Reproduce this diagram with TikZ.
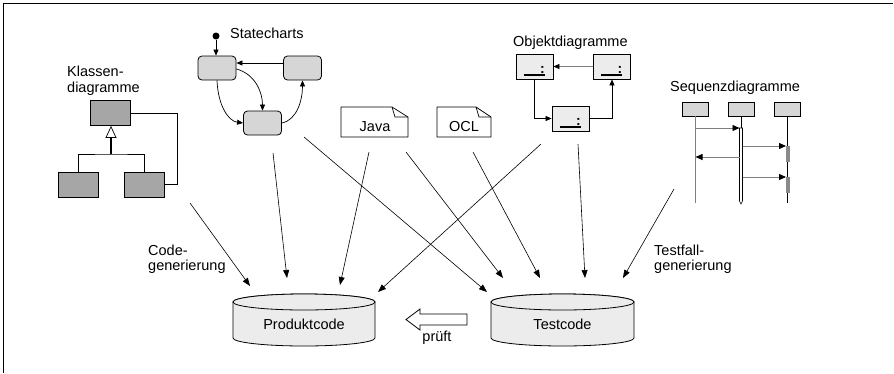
\documentclass[tikz,border=0pt]{standalone}
\usepackage{fontspec}
\setmainfont{Liberation Sans}
\usetikzlibrary{arrows.meta}
\definecolor{UMLDark}{HTML}{A6A6A6}
\definecolor{UMLState}{HTML}{D6D6D6}
\definecolor{UMLLight}{HTML}{ECECEC}
\definecolor{UMLLine}{HTML}{7F7F7F}
\definecolor{UMLAct}{HTML}{8A8A8A}
\tikzset{
  gen/.style={-{Triangle[length=8pt,width=6pt]},line width=0.6pt},
  small/.style={-{Triangle[length=6pt,width=5pt,color=black]},line width=0.7pt},
  seqmsg/.style={-{Triangle[length=7pt,width=6pt,color=black]},line width=0.8pt,UMLLine},
  classbox/.style={draw,fill=UMLDark,line width=0.8pt,minimum width=40pt,
                   minimum height=25pt,inner sep=0pt},
  statebox/.style={draw,fill=UMLState,line width=0.8pt,rounded corners=4pt,
                   minimum width=38pt,minimum height=24pt,inner sep=0pt},
  objbox/.style={draw,fill=UMLLight,line width=0.8pt,minimum width=37pt,
                 minimum height=25pt,inner sep=0pt},
  lifebox/.style={draw,fill=UMLState,line width=0.7pt,minimum width=26pt,
                  minimum height=14pt,inner sep=0pt},
  docline/.style={draw,fill=white,line width=0.7pt,line join=round},
  db/.style={draw,fill=UMLLight,line width=0.8pt},
  txt/.style={inner sep=0pt,anchor=base},
  txtl/.style={inner sep=0pt,anchor=base west},
  twoline/.style={inner sep=0pt,align=left,anchor=north west},
}
\newcommand{\dbstore}[4]{%
  \begin{scope}[shift={(#2,0)}]
    \draw[db] (-#3,302) -- (-#3,338)
      arc[start angle=180,end angle=360,x radius=#3pt,y radius=8pt]
      -- (#3,302) arc[start angle=0,end angle=180,x radius=#3pt,y radius=8pt] -- cycle;
    \draw[db] (0,302) ellipse[x radius=#3pt,y radius=8pt];
    \node[txt] (#1) at (0,329) {#4};
  \end{scope}%
}

\begin{document}
\begin{tikzpicture}[x=1pt,y=-1pt,font=\fontsize{14.5}{15.5}\selectfont]
  \useasboundingbox (0,0) rectangle (894,373);
  \draw[line width=1.4pt] (3.5,373) -- (3.5,3.5) -- (893,3.5);

  % class diagram
  \node[twoline] (kdlabel) at (67,66) {Klassen-\\diagramme};
  \node[classbox] (c0) at (110,113) {};
  \node[classbox] (c1) at (78,184.5) {};
  \node[classbox] (c2) at (144.5,184.5) {};
  \coordinate (cfork) at (111,154);
  \draw[line width=0.7pt] (c1.north) |- (cfork) -| (c2.north);
  \draw[line width=1.5pt,-{Triangle[length=12pt,width=11pt,fill=white,line width=0.7pt]}]
    (cfork) -- (cfork |- c0.south);
  \draw[line width=0.7pt] (c0.east) -- ++(47,0) |- (c2.east);

  % statecharts
  \node[txtl] (sclabel) at (230,38) {Statecharts};
  \node[circle,fill,inner sep=0pt,minimum size=7pt] (s0) at (216,36) {};
  \node[statebox] (s1) at (217,68) {};
  \node[statebox] (s2) at (302.5,68) {};
  \node[statebox] (s3) at (262.5,123) {};
  \draw[small] (s0) -- (s0 |- s1.north);
  \draw[small] ([yshift=5pt]s2.west) -- ([yshift=5pt]s1.east);
  \draw[small] ([yshift=-1pt]s1.east) .. controls (255,74) and (262.5,92) .. (s3.north);
  \draw[small] (s1.south) .. controls (218,105) and (228,121) .. (s3.west);
  \draw[small] (s3.east) .. controls (297,120) and (302.5,100) .. (s2.south);

  % java and ocl
  \draw[docline] (341,107) -- (392,107) -- (408,117) -- (408,137) -- (341,137) -- cycle;
  \draw[line width=0.7pt] (392,107) -- (395,117) -- (408,117);
  \node[txt] (java) at (375,131) {Java};
  \draw[docline] (437,107) -- (476,107) -- (491,117) -- (491,137) -- (437,137) -- cycle;
  \draw[line width=0.7pt] (476,107) -- (479,117) -- (491,117);
  \node[txt] (ocl) at (464,131) {OCL};

  % object diagram
  \node[txtl] (odlabel) at (513,46) {Objektdiagramme};
  \node[objbox] (o1) at (534.5,66.5) {};
  \node[objbox] (o2) at (612,66.5) {};
  \node[objbox] (o3) at (570.5,118.5) {};
  \foreach \o in {o1,o2,o3}{
    \draw[line width=1.3pt] ([xshift=-11pt,yshift=-8.5pt]\o.center) -- ++(21pt,0);
    \node[txt,font=\fontsize{14}{14}\selectfont\bfseries] (\o-c) at ([xshift=8pt,yshift=-6.5pt]\o.center) {:};
  }
  \draw[small,UMLLine] (o2.west) -- (o1.east);
  \draw[small] (o1.south) |- (o3.west);
  \draw[small] (o3.east) -| (o2.south);

  % sequence diagram
  \node[txtl] (sdlabel) at (670,91) {Sequenzdiagramme};
  \node[lifebox] (la) at (695,109) {};
  \node[lifebox] (lb) at (741,109) {};
  \node[lifebox] (lc) at (787.5,109) {};
  \draw[UMLLine,line width=0.9pt] (la.south) -- ++(0,87);
  \draw[line width=0.6pt] (lb.south) -- ++(0,12);
  \draw[line width=0.6pt] (lc.south) -- ++(0,87);
  \draw[fill=white,line width=0.6pt] (739.5,128) -- (742.5,128) -- (742.5,201)
    -- (741,204) -- (739.5,201) -- cycle;
  \fill[UMLAct] (786,146) rectangle (789.5,162);
  \fill[UMLAct] (786,177) rectangle (789.5,193);
  \draw[seqmsg] (695,128) -- (739.5,128);
  \draw[seqmsg] (742.5,146) -- (786,146);
  \draw[seqmsg] (739.5,157) -- (695.5,157);
  \draw[seqmsg] (742.5,177) -- (786,177);

  % code stores
  \dbstore{prod}{304}{71}{Produktcode}
  \dbstore{test}{562.5}{71.5}{Testcode}
  \draw[line width=0.8pt,fill=white] (467,314) -- (420,314) -- (420,309) -- (406,319.5)
    -- (420,330) -- (420,325) -- (467,325) -- cycle;
  \node[txt] (pruef) at (437,341) {prüft};
  \node[twoline] (cglabel) at (148,244.5) {Code-\\generierung};
  \node[twoline] (tglabel) at (654,244.5) {Testfall-\\generierung};

  % generation arrows
  \coordinate (kd-out) at (190,203);
  \coordinate (sc-out1) at (273,153);
  \coordinate (sc-out2) at (304,137);
  \coordinate (ja-out1) at (369,152);
  \coordinate (ja-out2) at (406,152);
  \coordinate (ocl-out) at (473,152);
  \coordinate (od-out1) at (541,144);
  \coordinate (od-out2) at (578,144);
  \coordinate (sd-out) at (674,189);
  \coordinate (prod-in1) at (250,286);
  \coordinate (prod-in2) at (287,278);
  \coordinate (prod-in3) at (340,285);
  \coordinate (prod-in4) at (378,292);
  \coordinate (test-in1) at (487,292);
  \coordinate (test-in2) at (503,278);
  \coordinate (test-in3) at (540,278);
  \coordinate (test-in4) at (585,278);
  \coordinate (test-in5) at (623,278);
  \draw[gen] (kd-out) -- (prod-in1);
  \draw[gen] (sc-out1) -- (prod-in2);
  \draw[gen] (ja-out1) -- (prod-in3);
  \draw[gen] (od-out1) -- (prod-in4);
  \draw[gen] (sc-out2) -- (test-in1);
  \draw[gen] (ja-out2) -- (test-in2);
  \draw[gen] (ocl-out) -- (test-in3);
  \draw[gen] (od-out2) -- (test-in4);
  \draw[gen] (sd-out) -- (test-in5);
\end{tikzpicture}
\end{document}
